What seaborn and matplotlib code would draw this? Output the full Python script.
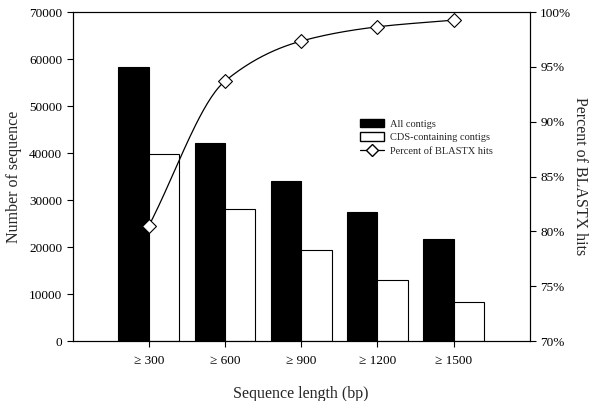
import numpy as np
import pandas as pd
import matplotlib
matplotlib.use("Agg")
import matplotlib.pyplot as plt
import seaborn as sns
from matplotlib.patches import Patch
from matplotlib.lines import Line2D
from matplotlib.ticker import FuncFormatter

categories = ["\u2265 300", "\u2265 600", "\u2265 900", "\u2265 1200", "\u2265 1500"]
all_contigs = [58200, 42100, 34100, 27500, 21600]
cds_contigs = [39700, 28000, 19400, 12900, 8400]
blastx_pct = [80.5, 93.7, 97.35, 98.65, 99.26]

sns.set_theme(style="white")
plt.rcParams['font.family'] = ['Liberation Serif', 'DejaVu Serif']

df = pd.DataFrame({
    "cat": categories * 2,
    "val": all_contigs + cds_contigs,
    "series": ["All contigs"] * 5 + ["CDS-containing contigs"] * 5,
})

fig = plt.figure(figsize=(6, 4.01), dpi=100)
ax = fig.add_axes([0.121, 0.1496, 0.762, 0.8204])
sns.barplot(data=df, x="cat", y="val", hue="series",
            palette=["black", "white"], edgecolor="black", linewidth=0.8,
            saturation=1, ax=ax, legend=False, width=0.8)
ax.set_xlim(-1, 5)
ax.set_ylim(0, 70000)
ax.set_yticks(np.arange(0, 70001, 10000))
ax.set_xlabel("Sequence length (bp)", fontsize=11.5, labelpad=14)
ax.set_ylabel("Number of sequence", fontsize=11.5, labelpad=5)
ax.tick_params(axis="both", labelsize=9.5, direction="out", length=4, width=0.8,
               left=True, bottom=True, colors="black")
ax.tick_params(axis="x", pad=6)
for s in ax.spines.values():
    s.set_color("black")
    s.set_linewidth(0.8)

ax2 = ax.twinx()
ax2.set_ylim(70, 100)
ax2.set_yticks(np.arange(70, 101, 5))
ax2.yaxis.set_major_formatter(FuncFormatter(lambda v, p: f"{int(v)}%"))
ax2.tick_params(axis="y", labelsize=9.5, direction="out", length=4, width=0.8,
                right=True, colors="black")
ax2.set_ylabel("Percent of BLASTX hits", fontsize=11.5, rotation=270, labelpad=12)
for s in ax2.spines.values():
    s.set_color("black")
    s.set_linewidth(0.8)

# smooth monotone curve (PCHIP) through the data points
xs = np.arange(len(blastx_pct), dtype=float)
ys = np.array(blastx_pct)
h = np.diff(xs)
d = np.diff(ys) / h
m = np.zeros_like(ys)
for k in range(1, len(ys) - 1):
    if d[k - 1] * d[k] > 0:
        w1 = 2 * h[k] + h[k - 1]
        w2 = h[k] + 2 * h[k - 1]
        m[k] = (w1 + w2) / (w1 / d[k - 1] + w2 / d[k])
m[0] = d[0]
m[-1] = d[-1]
xx, yy = [], []
for k in range(len(xs) - 1):
    t = np.linspace(0, 1, 40)
    h00 = 2 * t**3 - 3 * t**2 + 1
    h10 = t**3 - 2 * t**2 + t
    h01 = -2 * t**3 + 3 * t**2
    h11 = t**3 - t**2
    xx.extend(xs[k] + t * h[k])
    yy.extend(h00 * ys[k] + h10 * h[k] * m[k] + h01 * ys[k + 1] + h11 * h[k] * m[k + 1])
ax2.plot(xx, yy, color="black", lw=0.9, zorder=3)
sns.scatterplot(x=xs, y=ys, marker="D", s=50, facecolor="white",
                edgecolor="black", linewidth=0.8, ax=ax2, zorder=4)

handles = [
    Patch(facecolor="black", edgecolor="black", label="All contigs"),
    Patch(facecolor="white", edgecolor="black", label="CDS-containing contigs"),
    Line2D([0], [0], color="black", lw=0.9, marker="D", markersize=6.5,
           markerfacecolor="white", markeredgecolor="black", label="Percent of BLASTX hits"),
]
leg = ax2.legend(handles=handles, loc="upper left", bbox_to_anchor=(0.622, 0.685),
                 frameon=False, fontsize=7.5, handlelength=2.3, handleheight=0.9,
                 handletextpad=0.55, labelspacing=0.35, borderaxespad=0, borderpad=0.3)

fig.savefig("out.png", dpi=100)
